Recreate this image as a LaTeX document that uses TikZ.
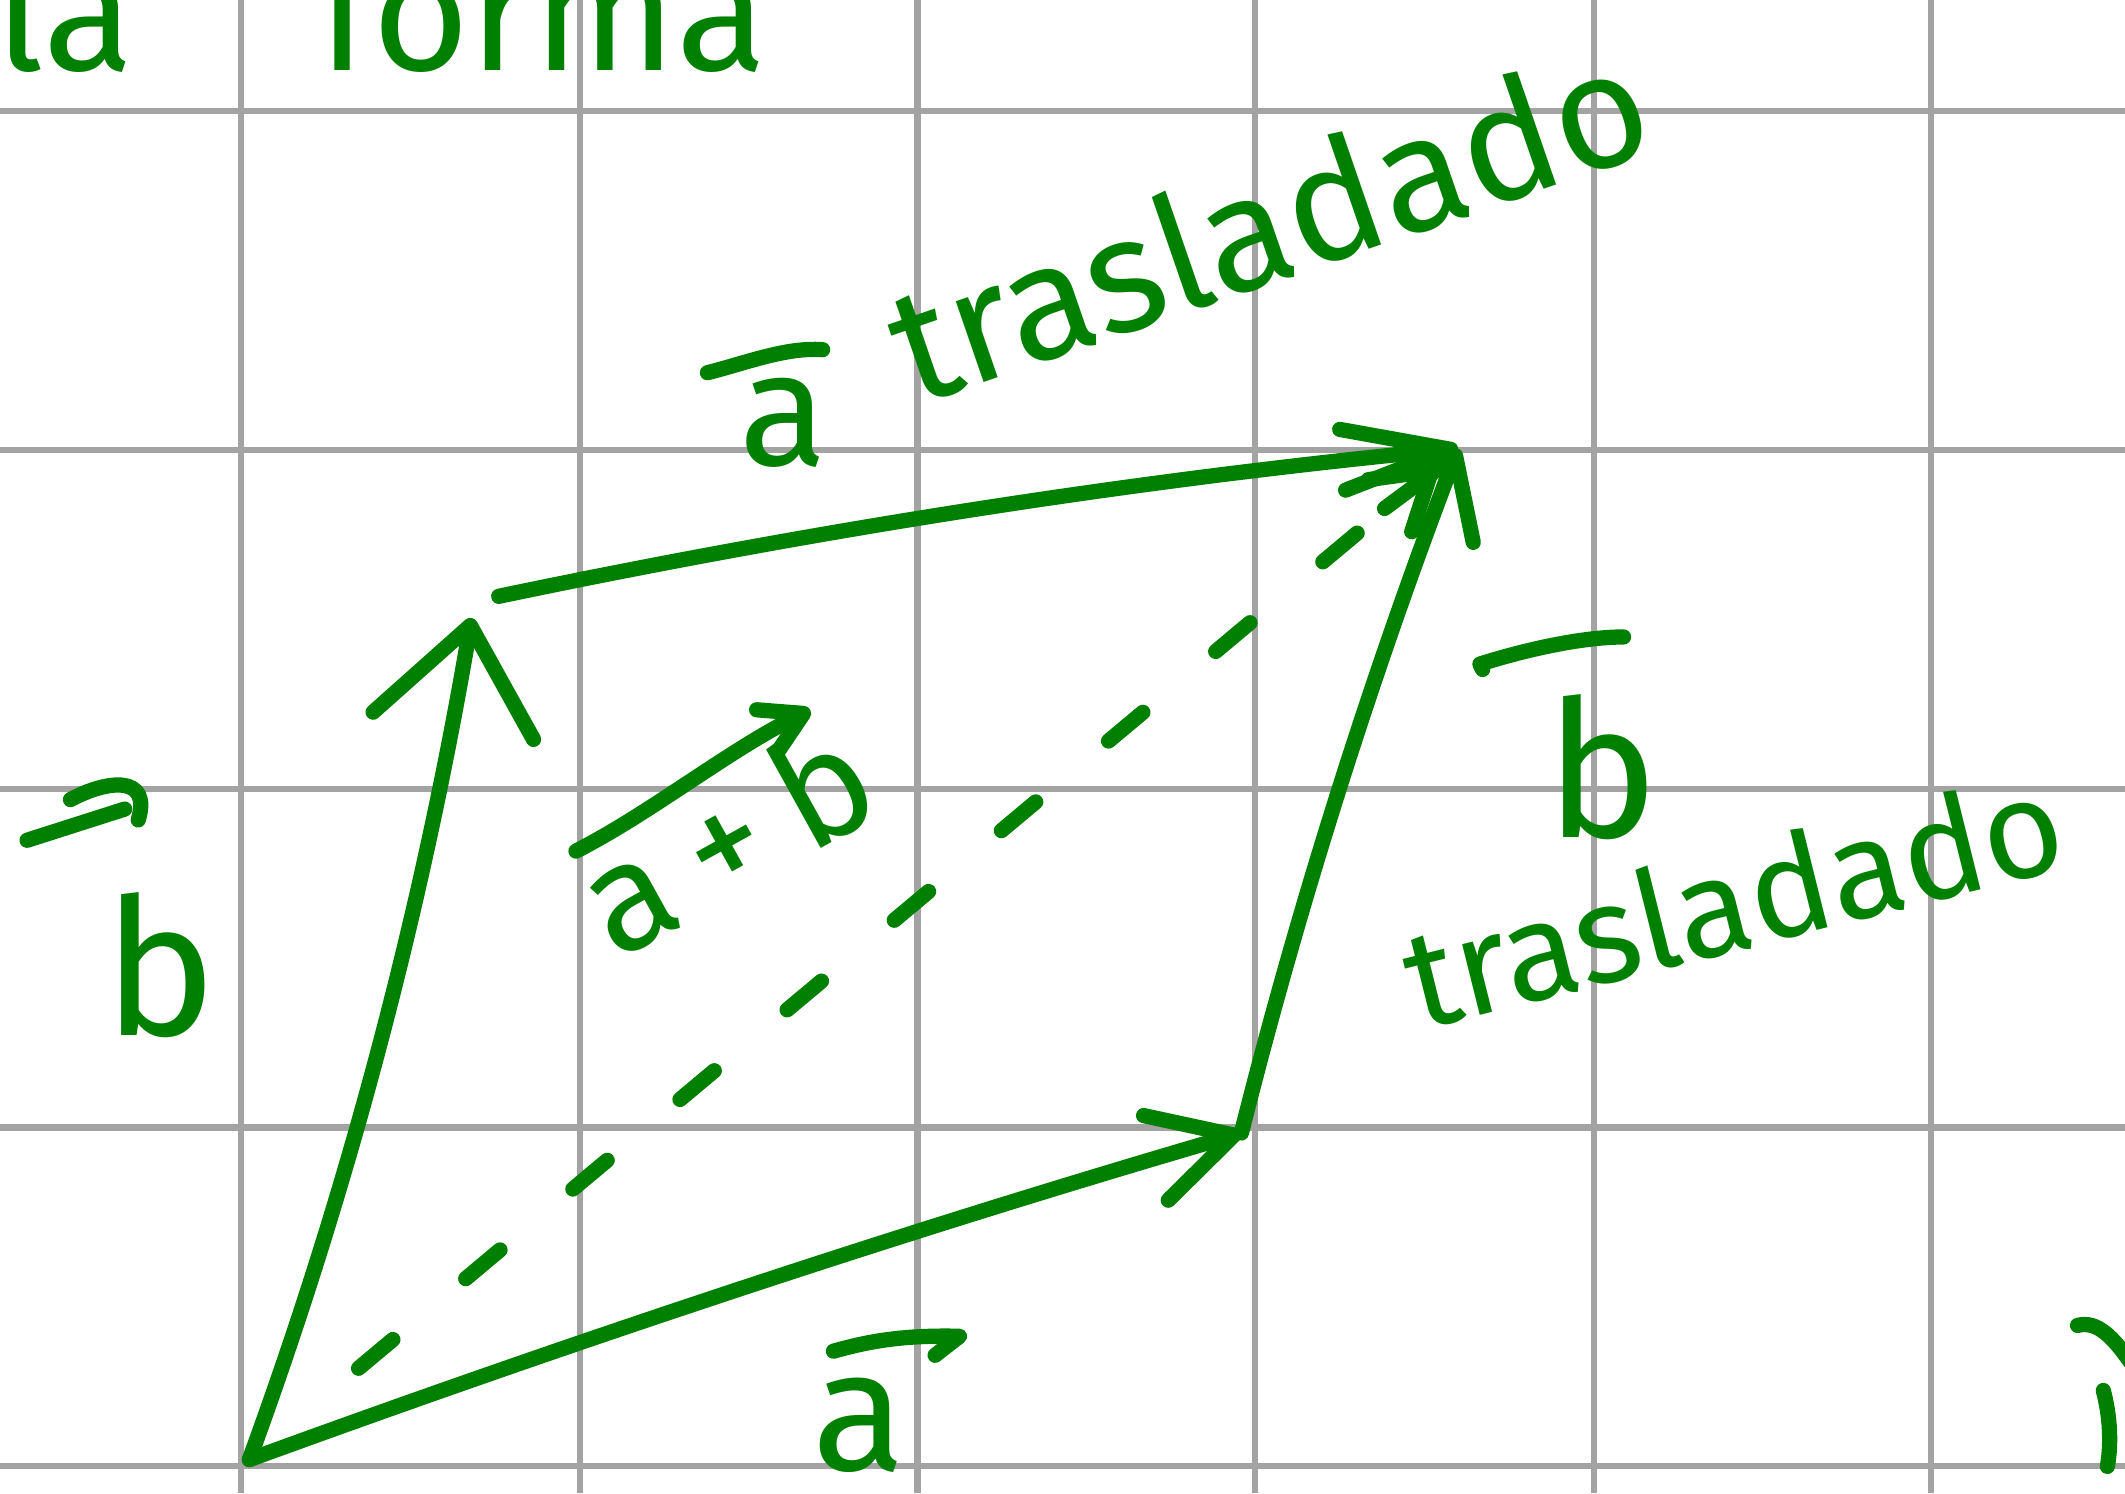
\documentclass[tikz,border=0pt]{standalone}
\usepackage{fontspec}
\setmainfont{Fira Sans}
\usetikzlibrary{arrows.meta}
\definecolor{ink}{HTML}{008000}
\definecolor{gridgray}{HTML}{A3A3A3}

\begin{document}
\begin{tikzpicture}[x=0.01cm, y=-0.01cm,
    pen/.style={draw=ink, line width=3.2pt, line cap=round, line join=round},
    gridline/.style={draw=gridgray, line width=1.3pt},
    hand/.style={text=ink, inner sep=0pt, font=\fontsize{#1}{#1}\selectfont},
    hand/.default=34pt]
  \fill[white, use as bounding box] (0,0) rectangle (1568,1102);
  % squared paper
  \foreach \gx in {178,428,677,926,1176,1425}
    \draw[gridline] (\gx,0) -- (\gx,1102);
  \foreach \gy in {82,332,582,832,1082}
    \draw[gridline] (0,\gy) -- (1568,\gy);
  % corners
  \coordinate (O) at (184,1077);
  \coordinate (A) at (916,836);
  \coordinate (B) at (348,456);
  \coordinate (Bt) at (368,440);
  \coordinate (S) at (1076,331);
  % vectors
  \draw[pen, -{Straight Barb[round, length=6mm, width=6.5mm]}] (O) .. controls (425,989) and (669,908) .. (A);
  \draw[pen, -{Straight Barb[round, length=7.5mm, width=12mm]}] (O) .. controls (258,875) and (312,668) .. (B);
  \draw[pen, -{Straight Barb[round, length=8mm, width=4.5mm]}] (Bt) .. controls (602,391) and (838,354) .. (S);
  \draw[pen, -{Straight Barb[round, length=5.5mm, width=7mm]}] (A) .. controls (959,665) and (1013,496) .. (S);
  \draw[pen, dash pattern=on 3.3mm off 7mm, shorten <=10.5mm, shorten >=2mm,
        -{Straight Barb[round, length=4mm, width=5mm]}] (O) -- (S);
  % labels
  \node[hand=36pt] (abot) at (634,1052) {a};
  \draw[pen] (615,997) .. controls (640,990) and (665,985) .. (708,986) -- (690,1000);
  \node[hand=40pt] (bleft) at (118,712) {b};
  \draw[pen] (20,620) -- (92,597);
  \draw[pen] (52,590) .. controls (80,575) and (112,572) .. (102,605);
  \node[hand=40pt] (bright) at (1182,566) {b};
  \draw[pen] (1094,494) -- (1092,490) .. controls (1130,478) and (1170,470) .. (1198,470);
  \node[hand=29pt, anchor=base, rotate=14] (trasb) at (1288,700) {trasladado};
  \node[hand=34pt] (atop) at (578,312) {a};
  \draw[pen] (522,275) .. controls (550,268) and (580,256) .. (607,258);
  \node[hand=34pt, anchor=base, rotate=19] (trasa) at (950,205) {trasladado};
  \node[hand=32pt, anchor=base, rotate=29] (apb) at (555,654) {a\hspace{0.2em}+\hspace{0.2em}b};
  \draw[pen, -{Straight Barb[round, length=3mm, width=3.5mm]}] (425,628) .. controls (480,600) and (540,552) .. (598,524);
  % cut off at the edges
  \node[hand=35pt, anchor=base west] (top) at (-4,52) {la\hspace{1.1em}forma};
  \draw[pen] (1533,978) .. controls (1548,974) and (1560,988) .. (1572,1005);
  \draw[pen] (1552,1026) .. controls (1557,1045) and (1558,1065) .. (1555,1082);
\end{tikzpicture}
\end{document}
